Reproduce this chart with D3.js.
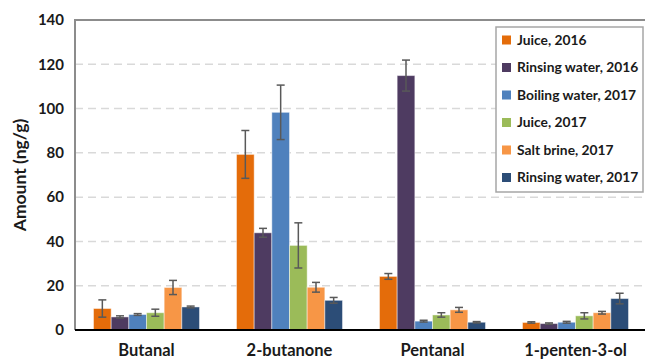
<!DOCTYPE html>
<html>
<head>
<meta charset="utf-8">
<script src="https://cdn.jsdelivr.net/npm/d3@7"></script>
<style>
  html, body { margin: 0; padding: 0; background: #fff; }
  svg { display: block; font-family: Lato, "Open Sans", sans-serif; }
</style>
</head>
<body>
<svg id="chart" width="645" height="360"></svg>
<script>
// Compounds on the x axis
const categories = ["Butanal", "2-butanone", "Pentanal", "1-penten-3-ol"];

// Sample series (legend order)
const seriesNames = [
  "Juice, 2016", "Rinsing water, 2016", "Boiling water, 2017",
  "Juice, 2017", "Salt brine, 2017", "Rinsing water, 2017"
];
const seriesColors = ["#E46C0A", "#4E3B61", "#4F81BD", "#9BBB59", "#F79646", "#2C4D77"];

// Mean amounts (ng/g), one array per series, in category order
const juice2016   = [9.7, 79.3, 24.2, 3.4];
const rinsing2016 = [5.9, 43.9, 114.9, 2.9];
const boiling2017 = [7.0, 98.3, 4.0, 3.5];
const juice2017   = [7.8, 38.2, 6.8, 6.4];
const brine2017   = [19.2, 19.3, 9.1, 7.8];
const rinsing2017 = [10.4, 13.4, 3.5, 14.2];

// Standard deviations (ng/g), same layout
const juice2016Err   = [3.9, 10.8, 1.3, 0.3];
const rinsing2016Err = [0.5, 2.0, 7.0, 0.3];
const boiling2017Err = [0.4, 12.3, 0.4, 0.4];
const juice2017Err   = [1.6, 10.2, 1.0, 1.4];
const brine2017Err   = [3.2, 2.2, 1.1, 0.6];
const rinsing2017Err = [0.4, 1.3, 0.3, 2.4];

// Axis ticks
const yTicks = [0, 20, 40, 60, 80, 100, 120, 140];

const seriesValues = [juice2016, rinsing2016, boiling2017, juice2017, brine2017, rinsing2017];
const seriesErrors = [juice2016Err, rinsing2016Err, boiling2017Err, juice2017Err, brine2017Err, rinsing2017Err];

const svg = d3.select("#chart");
const plotLeft = 75, plotRight = 647, plotTop = 20, plotBottom = 330;
const textColor = "#1a1a1a";

const x0 = d3.scaleBand().domain(categories).range([plotLeft, plotRight]).paddingInner(0).paddingOuter(0);
const groupW = 106;
const x1 = d3.scaleBand().domain(d3.range(seriesNames.length)).range([0, groupW]).padding(0);
const y = d3.scaleLinear().domain([0, 140]).range([plotBottom, plotTop]);

// Horizontal dashed gridlines
svg.append("g")
  .selectAll("line")
  .data(yTicks.filter(t => t > 0 && t < 140))
  .join("line")
  .attr("x1", plotLeft).attr("x2", 645)
  .attr("y1", d => y(d)).attr("y2", d => y(d))
  .attr("stroke", "#D9D9D9")
  .attr("stroke-width", 1.5)
  .attr("stroke-dasharray", "8,5");

// Plot frame: top and left edges
svg.append("line").attr("x1", plotLeft).attr("x2", 645).attr("y1", plotTop).attr("y2", plotTop)
  .attr("stroke", "#8C8C8C").attr("stroke-width", 2);
svg.append("line").attr("x1", plotLeft).attr("x2", plotLeft).attr("y1", plotTop - 1).attr("y2", plotBottom)
  .attr("stroke", "#8C8C8C").attr("stroke-width", 2);

// Flatten to bar records
const bars = [];
categories.forEach((c, ci) => {
  seriesNames.forEach((s, si) => {
    bars.push({ cat: c, si, value: seriesValues[si][ci], err: seriesErrors[si][ci] });
  });
});

const barX = d => x0(d.cat) + (x0.bandwidth() - groupW) / 2 + x1(d.si);

// Bars
svg.append("g")
  .selectAll("rect")
  .data(bars)
  .join("rect")
  .attr("x", barX)
  .attr("width", x1.bandwidth())
  .attr("y", d => y(d.value))
  .attr("height", d => y(0) - y(d.value))
  .attr("fill", d => seriesColors[d.si])
  .attr("stroke", "rgba(255,255,255,0.45)")
  .attr("stroke-width", 1);

// Error bars
const eg = svg.append("g").attr("stroke", "#595959").attr("stroke-width", 1.5).attr("fill", "none");
const cx = d => barX(d) + x1.bandwidth() / 2;
eg.selectAll("line.v").data(bars).join("line").attr("class", "v")
  .attr("x1", cx).attr("x2", cx)
  .attr("y1", d => y(d.value + d.err)).attr("y2", d => y(Math.max(0, d.value - d.err)));
eg.selectAll("line.t").data(bars).join("line").attr("class", "t")
  .attr("x1", d => cx(d) - 4).attr("x2", d => cx(d) + 4)
  .attr("y1", d => y(d.value + d.err)).attr("y2", d => y(d.value + d.err));
eg.selectAll("line.b").data(bars).join("line").attr("class", "b")
  .attr("x1", d => cx(d) - 4).attr("x2", d => cx(d) + 4)
  .attr("y1", d => y(Math.max(0, d.value - d.err))).attr("y2", d => y(Math.max(0, d.value - d.err)));

// X axis baseline
svg.append("line").attr("x1", plotLeft).attr("x2", 645).attr("y1", plotBottom).attr("y2", plotBottom)
  .attr("stroke", "#000").attr("stroke-width", 2);

// Y axis labels
const yAxis = d3.axisLeft(y).tickValues(yTicks).tickSize(0).tickPadding(0);
const yg = svg.append("g").attr("transform", `translate(${plotLeft - 11},0)`).call(yAxis);
yg.select(".domain").remove();
yg.selectAll("text")
  .attr("font-family", "Lato, sans-serif")
  .attr("font-size", 15).attr("font-weight", "bold").attr("fill", textColor);

// X axis labels
const xAxis = d3.axisBottom(x0).tickSize(0).tickPadding(0);
const xg = svg.append("g").attr("transform", `translate(0,${plotBottom + 14})`).call(xAxis);
xg.select(".domain").remove();
xg.selectAll("text")
  .attr("font-family", "Lato, sans-serif")
  .attr("font-size", 16.5).attr("font-weight", "bold").attr("fill", textColor);

// Y axis title
svg.append("text")
  .attr("transform", `translate(26,${(plotTop + plotBottom) / 2}) rotate(-90)`)
  .attr("text-anchor", "middle")
  .attr("font-family", "Lato, sans-serif")
  .attr("font-size", 17.5).attr("font-weight", "bold").attr("fill", textColor)
  .text("Amount (ng/g)");

// Legend
const lg = svg.append("g");
lg.append("rect").attr("x", 496).attr("y", 27).attr("width", 147).attr("height", 165)
  .attr("fill", "#fff").attr("stroke", "#A6A6A6").attr("stroke-width", 1.5);
const items = lg.selectAll("g.item").data(seriesNames).join("g").attr("class", "item")
  .attr("transform", (d, i) => `translate(502,${40 + i * 27.5})`);
items.append("rect").attr("x", 0).attr("y", -4.5).attr("width", 9).attr("height", 9)
  .attr("fill", (d, i) => seriesColors[i]);
items.append("text").attr("x", 15).attr("dy", "0.35em")
  .attr("font-family", "Lato, sans-serif")
  .attr("font-size", 13.8).attr("font-weight", "bold").attr("fill", textColor)
  .text(d => d);
</script>
</body>
</html>
